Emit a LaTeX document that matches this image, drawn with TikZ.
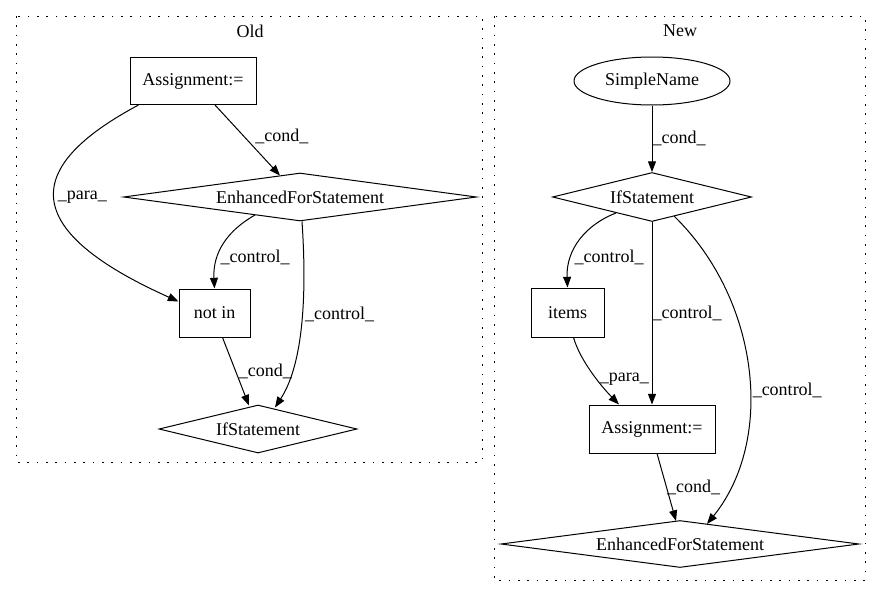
\documentclass[tikz,border=0pt]{standalone}
\usepackage{fontspec}
\setmainfont{Liberation Serif}
\usetikzlibrary{shapes.geometric,arrows.meta,calc}
\begin{document}
\begin{tikzpicture}[x=0.75pt,y=-0.75pt,
    font=\fontsize{13.5}{16}\selectfont,
    box/.style={draw,rectangle,line width=0.75pt,inner sep=0pt},
    cond/.style={draw,diamond,aspect=6,line width=0.75pt,inner sep=0pt},
    leaf/.style={draw,ellipse,line width=0.75pt,inner sep=0pt},
    edge/.style={line width=0.75pt,-{Triangle[length=8pt,width=6pt]}},
    lbl/.style={right,inner sep=2pt},
    cluster/.style={line width=0.75pt,dash pattern=on 1.2pt off 5.8pt}]
    \useasboundingbox (0,0) rectangle (881,596);

    % clusters
    \draw[cluster] (16,16) rectangle (482,462);
    \draw[cluster] (494,16) rectangle (865,580);
    \node (old) at (250,31) {Old};
    \node (new) at (680,31) {New};

    % old nodes
    \node[box,minimum width=94.5pt,minimum height=35.25pt] (oa) at (193,81) {Assignment:=};
    \node[cond,minimum width=264.75pt,minimum height=36pt] (oe) at (300,197) {EnhancedForStatement};
    \node[box,minimum width=53.25pt,minimum height=36pt] (notin) at (214.5,313) {not in};
    \node[cond,minimum width=148.5pt,minimum height=36pt] (oi) at (258,429) {IfStatement};

    % new nodes
    \node[leaf,minimum width=117pt,minimum height=36pt] (sn) at (652,81) {SimpleName};
    \node[cond,minimum width=149.25pt,minimum height=36.75pt] (ni) at (652,197) {IfStatement};
    \node[box,minimum width=54.75pt,minimum height=36.75pt] (items) at (567.5,312.5) {items};
    \node[box,minimum width=94.5pt,minimum height=36pt] (na) at (652,429) {Assignment:=};
    \node[cond,minimum width=268.5pt,minimum height=35.25pt] (ne) at (680,544) {EnhancedForStatement};

    % old edges
    \draw[edge] ($(oa.south)+(22,0)$) -- ($(oe.north)+(-20,3)$) node[pos=0.45,lbl,xshift=6pt] {\_cond\_};
    \draw[edge] ($(oa.south west)+(9,0)$) .. controls (30,163) and (10,226) .. ($(notin.north west)+(0,13)$) node[pos=0.5,lbl] {\_para\_};
    \draw[edge] ($(oe.center)+(-45,18)$) .. controls (220,235) and (213,260) .. (notin.north) node[pos=0.62,lbl] {\_control\_};
    \draw[edge] ($(oe.south)+(2,0)$) .. controls (306,280) and (306,360) .. ($(oi.north)+(17,3)$) node[pos=0.48,lbl] {\_control\_};
    \draw[edge] ($(notin.south)+(8,0)$) -- ($(oi.north)+(-9,1)$) node[midway,lbl] {\_cond\_};

    % new edges
    \draw[edge] (sn.south) -- (ni.north) node[midway,lbl,xshift=-2pt] {\_cond\_};
    \draw[edge] ($(ni.center)+(-36,16)$) .. controls (585,225) and (566,250) .. (items.north) node[pos=0.7,lbl] {\_control\_};
    \draw[edge] (ni.south) -- (na.north) node[midway,lbl,xshift=-2pt] {\_control\_};
    \draw[edge] ($(ni.center)+(22,19)$) .. controls (760,300) and (775,440) .. ($(ne.center)+(27,-20)$) node[pos=0.56,lbl] {\_control\_};
    \draw[edge] ($(items.south)+(6,0)$) .. controls (580,360) and (600,385) .. ($(na.north)+(-33,0)$) node[pos=0.6,lbl] {\_para\_};
    \draw[edge] ($(na.south)+(5,0)$) -- ($(ne.north)+(-4,1)$) node[midway,lbl,xshift=-2pt] {\_cond\_};
\end{tikzpicture}
\end{document}
